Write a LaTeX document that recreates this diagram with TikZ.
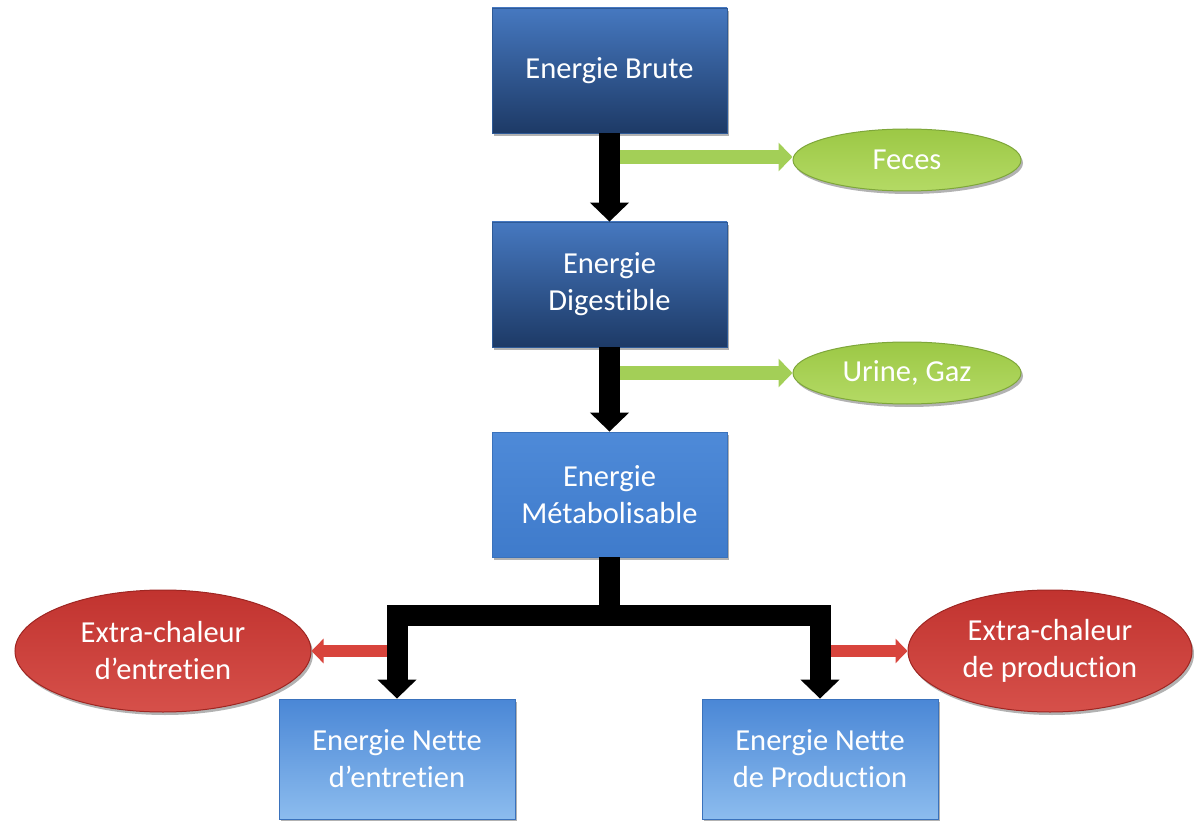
\documentclass[tikz,border=0pt]{standalone}
\usepackage{fontspec}
\setmainfont{Carlito}[Ligatures=NoCommon]
\usetikzlibrary{arrows.meta,shapes.geometric,shadows}

\definecolor{darkTop}{HTML}{4678C0}
\definecolor{darkBot}{HTML}{1D3A66}
\definecolor{darkEdge}{HTML}{2E5A97}
\definecolor{midTop}{HTML}{4E8AD8}
\definecolor{midBot}{HTML}{3F7BCB}
\definecolor{lightTop}{HTML}{4A87D6}
\definecolor{lightBot}{HTML}{8CBCEE}
\definecolor{boxEdge}{HTML}{3A72BC}
\definecolor{grnTop}{HTML}{9CC845}
\definecolor{grnBot}{HTML}{B4DA65}
\definecolor{grnEdge}{HTML}{7EA63A}
\definecolor{grnLine}{HTML}{A3CF57}
\definecolor{redTop}{HTML}{C1332F}
\definecolor{redBot}{HTML}{D6504A}
\definecolor{redEdge}{HTML}{9E2622}
\definecolor{redLine}{HTML}{D8443C}

\tikzset{
  label text/.style={text=white, align=center, font=\fontsize{30.5}{37}\selectfont},
  boxshadow/.style={drop shadow={shadow xshift=2pt, shadow yshift=-3pt, opacity=0.3, fill=black}},
  darkbox/.style={label text, rectangle, inner sep=0pt, minimum width=235pt, minimum height=125pt,
    top color=darkTop, bottom color=darkBot, draw=darkEdge, line width=0.8pt, boxshadow},
  midbox/.style={label text, rectangle, inner sep=0pt, minimum width=235pt, minimum height=125pt,
    top color=midTop, bottom color=midBot, draw=boxEdge, line width=0.8pt, boxshadow},
  lightbox/.style={label text, rectangle, inner sep=0pt, minimum width=236pt, minimum height=120pt,
    top color=lightTop, bottom color=lightBot, draw=boxEdge, line width=0.8pt, boxshadow},
  greenoval/.style={label text, ellipse, inner sep=0pt, minimum width=228pt, minimum height=62pt,
    top color=grnTop, bottom color=grnBot, draw=grnEdge, line width=1pt, boxshadow},
  redoval/.style={label text, ellipse, inner sep=0pt, minimum height=122pt,
    top color=redTop, bottom color=redBot, draw=redEdge, line width=1pt, boxshadow},
  flowarrow/.style={draw=black, line width=21pt, line join=miter,
    -{Triangle[width=38pt,length=19pt]}},
  flowline/.style={draw=black, line width=21pt, line join=miter},
  lossgreen/.style={draw=grnLine, line width=14pt, -{Triangle[width=28pt,length=14pt]}},
  lossred/.style={draw=redLine, line width=12pt, -{Triangle[width=24pt,length=12pt]}},
}

\begin{document}
\begin{tikzpicture}[x=1pt, y=-1pt]
  \useasboundingbox (0,0) rectangle (1203,821);

  % main energy chain
  \node[darkbox] (brute) at (609.5,70.5) {Energie Brute};
  \node[darkbox] (dig) at (609.5,284.5) {Energie\\Digestible};
  \node[midbox] (met) at (609.5,494.5) {Energie\\Métabolisable};
  \node[lightbox] (nel) at (397,759) {Energie Nette\\d’entretien};
  \node[lightbox] (nep) at (820,759) {Energie Nette\\de Production};

  % losses
  \node[greenoval] (feces) at (907,160) {Feces};
  \node[greenoval] (urine) at (907,373) {Urine, Gaz};
  \node[redoval, minimum width=296pt] (extL) at (163,651) {Extra-chaleur\\d’entretien};
  \node[redoval, minimum width=284pt] (extR) at (1050,651) {Extra-chaleur\\de production};

  % branch points of the loss arrows
  \coordinate (g1) at (616,157);
  \coordinate (g2) at (616,373);
  \coordinate (r1) at (398,651);
  \coordinate (r2) at (822,651);
  \coordinate (j) at (609.5,615);

  \draw[lossgreen] (g1) -- (g1 -| feces.west);
  \draw[lossgreen] (g2) -- (g2 -| urine.west);
  \draw[lossred] (r1) -- (r1 -| extL.east);
  \draw[lossred] (r2) -- (r2 -| extR.west);

  % energy flow
  \draw[flowarrow] (brute.south) -- (dig.north);
  \draw[flowarrow] (dig.south) -- (met.north);
  \draw[flowline] (met.south) -- (j);
  \draw[flowarrow] (j) -| (nel.north);
  \draw[flowarrow] (j) -| (nep.north);
\end{tikzpicture}
\end{document}
